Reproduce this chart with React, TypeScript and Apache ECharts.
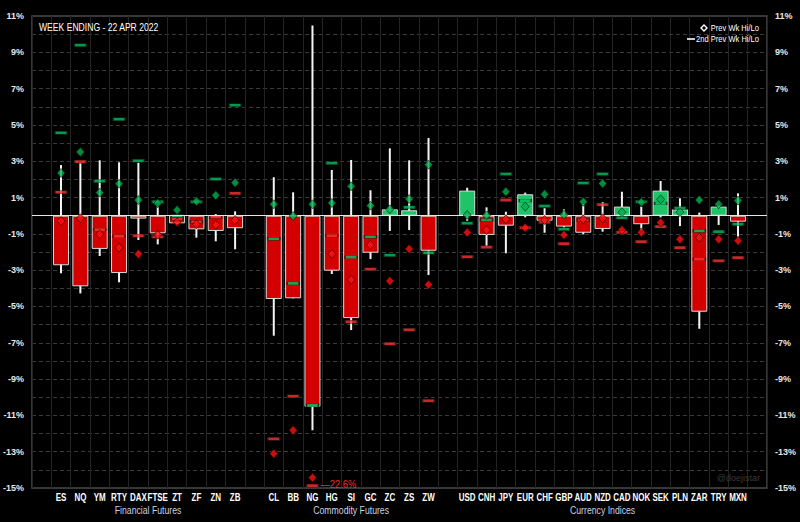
import React, { useEffect, useRef } from 'react';
import * as echarts from 'echarts';

const titleText = 'WEEK ENDING - 22 APR 2022';
const watermark = '@doejistar';
const legendNames = ['Prev Wk Hi/Lo', '2nd Prev Wk Hi/Lo'];
const groupNames = ['Financial Futures', 'Commodity Futures', 'Currency Indices'];
const groupSizes = [10, 9, 15];
const tickers = ['ES', 'NQ', 'YM', 'RTY', 'DAX', 'FTSE', 'ZT', 'ZF', 'ZN', 'ZB',
  'CL', 'BB', 'NG', 'HG', 'SI', 'GC', 'ZC', 'ZS', 'ZW',
  'USD', 'CNH', 'JPY', 'EUR', 'CHF', 'GBP', 'AUD', 'NZD', 'CAD', 'NOK', 'SEK', 'PLN', 'ZAR', 'TRY', 'MXN'];
// weekly change (%)
const weekChange = [-2.73, -3.89, -1.83, -3.16, -0.16, -0.97, -0.42, -0.75, -0.84, -0.69,
  -4.59, -4.55, -10.52, -3.03, -5.64, -2.04, 0.35, 0.30, -1.93,
  1.38, -1.06, -0.55, 1.18, -0.28, -0.60, -0.94, -0.73, 0.50, -0.47, 1.38, 0.35, -5.29, 0.50, -0.33];
const weekHigh = [2.79, 2.89, 3.05, 2.94, 2.92, 0.50, 0.05, 0.04, 0.09, 0.24,
  2.12, 1.29, 10.47, 2.52, 3.07, 1.40, 3.71, 3.05, 4.28,
  1.54, 0.46, 0.22, 1.27, 0.41, 0.35, 0.64, 0.74, 1.32, 0.50, 1.91, 0.96, 0.17, 0.55, 1.23];
const weekLow = [-3.17, -4.28, -2.22, -3.67, -1.34, -1.58, -0.45, -1.21, -1.41, -1.85,
  -6.61, -4.55, -11.82, -3.21, -6.30, -2.39, -0.84, -0.79, -3.27,
  -0.28, -1.67, -2.07, -0.09, -0.94, -0.65, -1.03, -0.88, -0.10, -0.79, -0.09, -0.57, -6.23, -0.51, -1.19];
const prevWkHigh = [2.35, 3.51, 1.27, 1.76, 0.86, 0.68, 0.31, 0.79, 1.12, 1.82,
  0.63, -0.02, 0.63, 0.70, 1.62, 0.55, 0.35, 0.92, 2.81,
  0.04, 0.02, 1.32, 0.50, 1.18, 0.06, 0.77, 1.78, 0.19, 0.74, 0.90, 0.19, 0.86, 0.63, 0.83];
const prevWkLow = [-0.29, -0.14, -1.02, -1.76, -2.11, -1.05, -0.36, -0.47, -0.50, -0.24,
  -13.11, -11.82, -14.43, -2.11, -3.53, -1.61, -3.60, -1.83, -3.80,
  -0.92, -0.79, -0.20, -0.66, -0.24, -1.06, -0.20, -0.14, -0.79, -0.92, -0.38, -1.30, -1.21, -1.30, -1.38];
const prev2WkHigh = [4.57, 9.39, 1.90, 5.31, 3.03, 0.77, -0.02, 0.77, 2.02, 6.08,
  -1.27, -3.73, -10.45, 2.89, -2.28, -1.16, -2.18, 0.46, -2.04,
  -0.42, -0.24, 2.30, 0.83, 0.53, -0.75, 1.80, 2.30, -0.11, 0.77, 0.68, 0.42, -0.83, -0.88, -0.47];
const prev2WkLow = [1.29, 2.98, -0.77, -1.14, -1.10, -1.16, -0.18, -0.33, -0.07, 1.23,
  -12.29, -9.95, -22.6, -1.10, -5.84, -2.95, -7.05, -6.28, -10.19,
  -2.26, -1.74, 0.86, -0.66, -0.36, -1.54, -0.24, 0.61, -0.92, -1.43, -0.60, -1.76, -2.39, -2.48, -2.31];
const Y_MIN = -15;
const Y_MAX = 11;

const FONT = "'Liberation Sans', Arial, sans-serif";
const RED = '#d40000';
const GREEN = '#1fc468';
const DOT_RED = '#ff1010';
const DOT_GREEN = '#00b050';

export default function App() {
  const ref = useRef<HTMLDivElement>(null);
  useEffect(() => {
    const chart = echarts.init(ref.current!, null, { renderer: 'svg' });
    const slotNames: string[] = [];
    const slotTicker: (number | null)[] = [];
    const groupRanges: [number, number][] = [];
    let blank = 0;
    const addBlank = () => { blank += 1; slotNames.push(' '.repeat(blank)); slotTicker.push(null); };
    addBlank();
    let t = 0;
    groupSizes.forEach((n) => {
      const start = slotNames.length;
      for (let i = 0; i < n; i++) { slotNames.push(tickers[t]); slotTicker.push(t); t++; }
      groupRanges.push([start, slotNames.length - 1]);
      addBlank();
    });
    const offScale: { s: number; v: number }[] = [];
    const pts = (arr: number[]) => {
      const out: any[] = [];
      slotTicker.forEach((ti, s) => {
        if (ti === null) return;
        const v = arr[ti];
        if (v < Y_MIN) {
          offScale.push({ s, v });
          out.push({ value: [s, Y_MIN + 0.13] });
        } else out.push({ value: [s, v] });
      });
      return out;
    };
    const barData = slotTicker.map((ti) => ti === null ? '-' : {
      value: weekChange[ti],
      itemStyle: { color: weekChange[ti] >= 0 ? GREEN : RED },
    });
    const whiskerData: any[] = [];
    slotTicker.forEach((ti, s) => { if (ti !== null) whiskerData.push([s, weekLow[ti], weekHigh[ti]]); });

    const yLabel = {
      color: '#e8e8e8', fontFamily: FONT, fontWeight: 'bold' as const, fontSize: 9, margin: 8,
      formatter: (v: number) => (Math.abs(Math.round(v)) % 2 === 1 ? `${v}%` : ''),
    };
    const dashStyle = (c: string) => ({ color: c, borderColor: '#1a1a1a', borderWidth: 0.8 });

    chart.setOption({
      animation: false,
      backgroundColor: '#000',
      grid: { left: 31, right: 33, top: 16, bottom: 34, show: true, borderColor: '#4a4a4a', borderWidth: 1.5 },
      xAxis: {
        type: 'category', data: slotNames, boundaryGap: true,
        axisLine: { show: false }, axisTick: { show: false },
        axisLabel: { show: false },
        splitLine: { show: true, interval: 0, lineStyle: { color: '#242424', width: 1 } },
      },
      yAxis: [
        {
          type: 'value', min: Y_MIN, max: Y_MAX, interval: 1, position: 'left',
          axisLine: { show: false }, axisTick: { show: false }, axisLabel: yLabel,
          splitLine: { show: true, lineStyle: { color: '#3a3a3a', width: 1, type: [4, 3] } },
        },
        {
          type: 'value', min: Y_MIN, max: Y_MAX, interval: 1, position: 'right',
          axisLine: { show: false }, axisTick: { show: false }, axisLabel: yLabel,
          splitLine: { show: false },
        },
      ],
      series: [
        {
          type: 'custom', name: 'range', z: 2,
          encode: { x: 0, y: [1, 2] },
          data: whiskerData,
          renderItem: (params: any, api: any) => {
            const x = api.value(0);
            const lo = api.coord([x, api.value(1)]);
            const hi = api.coord([x, api.value(2)]);
            return {
              type: 'line',
              shape: { x1: lo[0], y1: lo[1], x2: hi[0], y2: hi[1] },
              style: { stroke: '#f4f4f4', lineWidth: 2 },
            };
          },
        },
        {
          type: 'bar', name: 'change', z: 3, barWidth: 16,
          data: barData,
          itemStyle: { borderColor: '#d8d8d8', borderWidth: 1 },
          markLine: {
            silent: true, symbol: ['none', 'none'], label: { show: false },
            lineStyle: { color: '#e6e6e6', width: 1.2, type: 'solid' },
            data: [{ yAxis: 0 }],
          },
        },
        {
          type: 'scatter', name: '2nd Prev Wk Hi', z: 4, symbol: 'rect', symbolSize: [12, 3],
          itemStyle: dashStyle('#00c060'), data: pts(prev2WkHigh),
        },
        {
          type: 'scatter', name: '2nd Prev Wk Lo', z: 4, symbol: 'rect', symbolSize: [12, 3],
          itemStyle: dashStyle('#ff3030'), data: pts(prev2WkLow),
        },
        {
          type: 'scatter', name: 'Prev Wk Hi', z: 5, symbol: 'diamond', symbolSize: [8, 9],
          itemStyle: { color: DOT_GREEN, borderColor: '#102010', borderWidth: 0.8 }, data: pts(prevWkHigh),
        },
        {
          type: 'scatter', name: 'Prev Wk Lo', z: 5, symbol: 'diamond', symbolSize: [8, 9],
          itemStyle: { color: DOT_RED, borderColor: '#300000', borderWidth: 0.8 }, data: pts(prevWkLow),
        },
      ],
    });

    const gx = (s: number) => chart.convertToPixel({ xAxisIndex: 0 }, s) as number;
    const gy = (v: number) => chart.convertToPixel({ yAxisIndex: 0 }, v) as number;
    const axisBottom = gy(Y_MIN);
    const catTexts: any[] = [];
    slotTicker.forEach((ti, s) => {
      if (ti === null) return;
      catTexts.push({
        type: 'text', x: gx(s), y: axisBottom + 9.5, scaleX: 0.76,
        style: {
          text: tickers[ti], fill: '#ffffff', font: `bold 10.5px ${FONT}`,
          textAlign: 'center', textVerticalAlign: 'middle',
        },
      });
    });
    const offTexts = offScale.map(({ s, v }) => ({
      type: 'text', x: gx(s) + 8, y: gy(Y_MIN + 0.13) - 1, scaleX: 0.85, z: 100,
      style: {
        text: '\u2014' + Math.abs(v).toFixed(1) + '%', fill: '#ff2424', font: `11px ${FONT}`,
        textVerticalAlign: 'middle',
      },
    }));
    const groupTexts = groupNames.map((name, g) => ({
      type: 'text',
      x: (gx(groupRanges[g][0]) + gx(groupRanges[g][1])) / 2,
      y: axisBottom + 22.5, scaleX: 0.87,
      style: {
        text: name, fill: '#c9d2e3', font: `10px ${FONT}`,
        textAlign: 'center', textVerticalAlign: 'middle',
      },
    }));
    chart.setOption({
      graphic: [
        ...catTexts,
        ...offTexts,
        ...groupTexts,
        {
          type: 'text', x: 39, y: 28, scaleX: 0.86,
          style: { text: titleText, fill: '#ffffff', font: `10px ${FONT}`, textVerticalAlign: 'middle' },
        },
        {
          type: 'polygon', shape: { points: [[704, 25], [707, 28], [704, 31], [701, 28]] },
          style: { fill: 'none', stroke: '#ffffff', lineWidth: 1.4 },
        },
        {
          type: 'text', x: 759, y: 28, scaleX: 0.84,
          style: { text: legendNames[0], fill: '#ffffff', font: `9px ${FONT}`, textAlign: 'right', textVerticalAlign: 'middle' },
        },
        {
          type: 'line', shape: { x1: 687, y1: 39, x2: 695, y2: 39 },
          style: { stroke: '#ffffff', lineWidth: 1.6 },
        },
        {
          type: 'text', x: 759, y: 39, scaleX: 0.84,
          style: { text: legendNames[1], fill: '#ffffff', font: `9px ${FONT}`, textAlign: 'right', textVerticalAlign: 'middle' },
        },
        {
          type: 'text', x: 760, y: 478,
          style: { text: watermark, fill: '#3a3a3a', font: `9px ${FONT}`, textAlign: 'right', textVerticalAlign: 'middle' },
        },
      ],
    });
    return () => chart.dispose();
  }, []);
  return <div ref={ref} style={{ position: 'fixed', left: 0, top: 0, width: 800, height: 522, background: '#000' }} />;
}
